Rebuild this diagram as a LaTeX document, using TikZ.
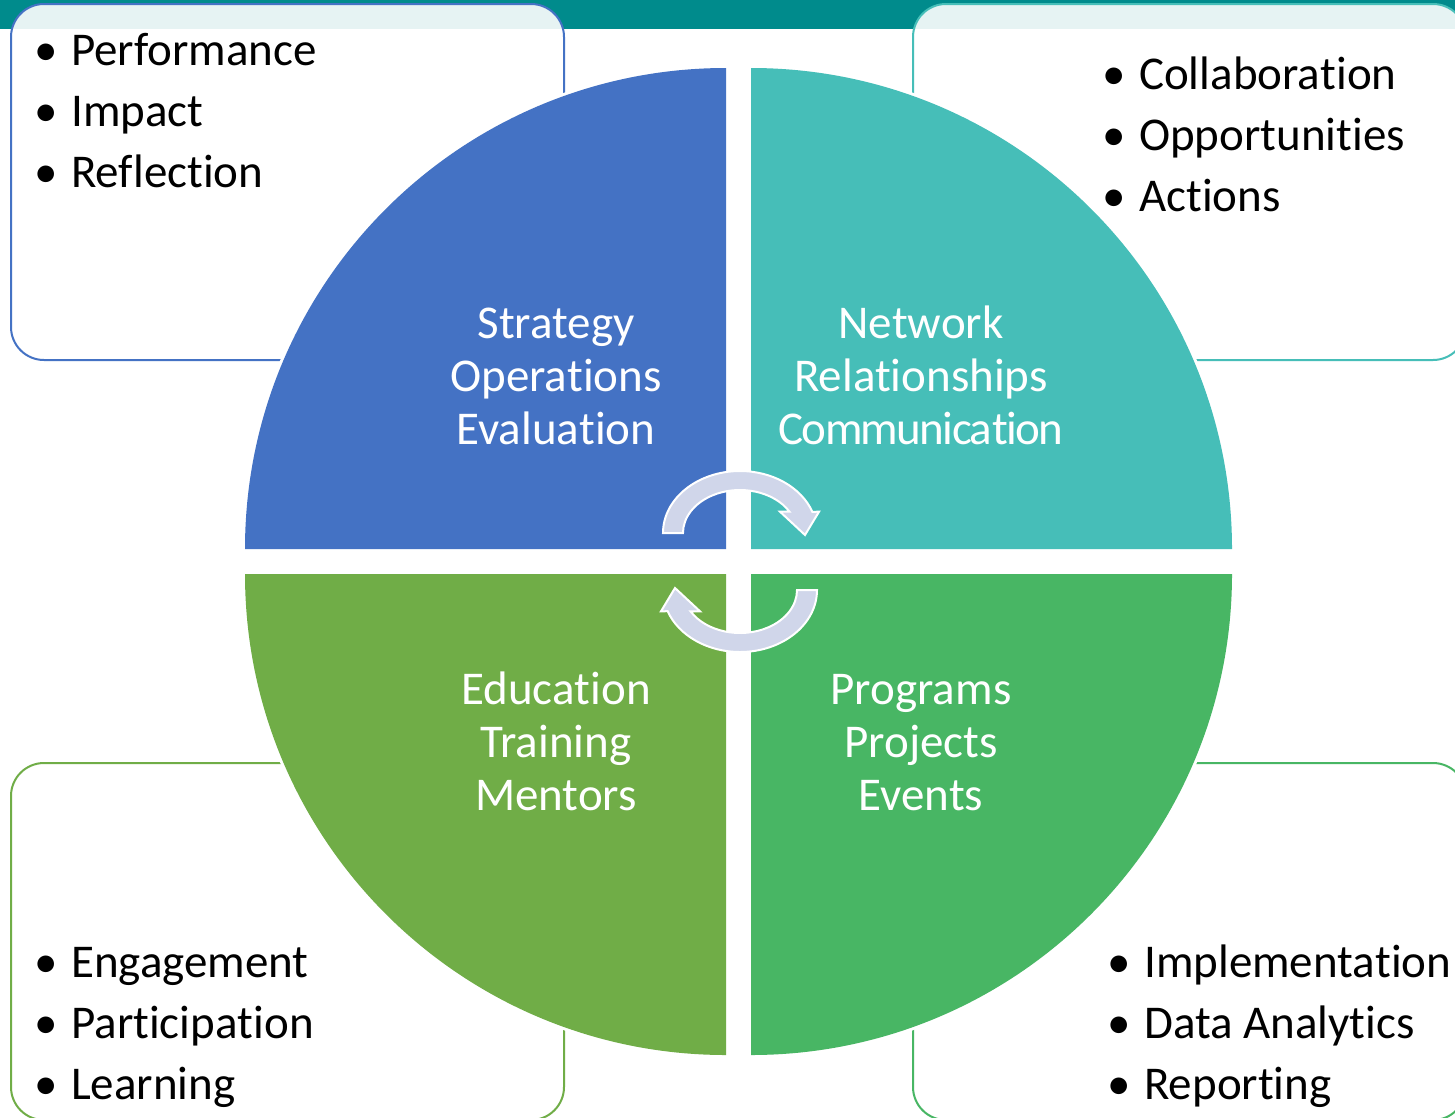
\documentclass[tikz,border=0pt]{standalone}
\usepackage{fontspec}
\setmainfont{Carlito}[RawFeature={-liga,-clig,-dlig,-calt,-rlig}]
\definecolor{topbar}{RGB}{0,139,140}
\definecolor{qblue}{RGB}{68,114,196}
\definecolor{qteal}{RGB}{70,190,184}
\definecolor{qgreenA}{RGB}{112,173,71}
\definecolor{qgreenB}{RGB}{72,182,100}
\definecolor{arrowfill}{RGB}{208,214,234}
\begin{document}
\begin{tikzpicture}[x=1pt,y=1pt,
  boxline/.style={line width=2pt, rounded corners=33pt, fill=white, fill opacity=0.9},
  bul/.style={anchor=base west, inner sep=0pt, font=\fontsize{47}{56}\selectfont, text=black},
  ctext/.style={anchor=base, inner sep=0pt, font=\fontsize{47}{56}\selectfont, text=white},
  carrow/.style={fill=arrowfill, draw=white, line width=2pt, line join=miter}]
\useasboundingbox (0,0) rectangle (1455,-1117);
\fill[white] (0,0) rectangle (1455,-1117);
\fill[topbar] (0,0) rectangle (1455,-29);
% corner boxes
\draw[boxline, draw=qblue] (11,-4) rectangle (564,-360);
\draw[boxline, draw=qteal] (913,-4) rectangle (1466,-360);
\draw[boxline, draw=qgreenA] (11,-763) rectangle (564,-1120);
\draw[boxline, draw=qgreenB] (913,-763) rectangle (1466,-1120);
% white halo of the quadrants
\begin{scope}[white, line width=6pt]
\draw (726,-549) -- (245,-549) arc[start angle=180, end angle=90, radius=481] -- cycle;
\draw (751,-549) -- (751,-68) arc[start angle=90, end angle=0, radius=481] -- cycle;
\draw (726,-574) -- (245,-574) arc[start angle=180, end angle=270, radius=481] -- cycle;
\draw (751,-574) -- (1232,-574) arc[start angle=0, end angle=-90, radius=481] -- cycle;
\end{scope}
% quadrants
\fill[qblue] (726,-549) -- (245,-549) arc[start angle=180, end angle=90, radius=481] -- cycle;
\fill[qteal] (751,-549) -- (751,-68) arc[start angle=90, end angle=0, radius=481] -- cycle;
\fill[qgreenA] (726,-574) -- (245,-574) arc[start angle=180, end angle=270, radius=481] -- cycle;
\fill[qgreenB] (751,-574) -- (1232,-574) arc[start angle=0, end angle=-90, radius=481] -- cycle;
% circular arrows
\path[carrow] (663,-533) arc[start angle=180, end angle=20, x radius=77, y radius=62]
  -- (819,-511.7) -- (805,-535) -- (780,-511.7) -- (789.5,-511.7)
  arc[start angle=29.7, end angle=180, x radius=57, y radius=43] -- cycle;
\begin{scope}[rotate around={180:(740,-561.5)}]
\path[carrow] (663,-533) arc[start angle=180, end angle=20, x radius=77, y radius=62]
  -- (819,-511.7) -- (805,-535) -- (780,-511.7) -- (789.5,-511.7)
  arc[start angle=29.7, end angle=180, x radius=57, y radius=43] -- cycle;
\end{scope}
% quadrant texts
\node[ctext] (s1) at (556,-338) {Strategy};
\node[ctext] (s2) at (556,-391) {Opera\kern0pt tions};
\node[ctext] (s3) at (556,-444) {Evalua\kern0pt tion};
\node[ctext] (n1) at (921,-338) {Network};
\node[ctext] (n2) at (921,-391) {Relationships};
\node[ctext] (n3) at (921,-444) {\addfontfeature{LetterSpace=-3.5}Communica\kern0pt tion};
\node[ctext] (e1) at (556,-704) {Educa\kern0pt tion};
\node[ctext] (e2) at (556,-757) {Training};
\node[ctext] (e3) at (556,-810) {Mentors};
\node[ctext] (g1) at (921,-704) {Programs};
\node[ctext] (g2) at (921,-757) {Projects};
\node[ctext] (g3) at (921,-810) {Events};
% bullet lists
\node[bul] (tl1) at (71,-65) {\llap{\makebox[50pt]{•}}Performance};
\node[bul] (tl2) at (71,-126) {\llap{\makebox[50pt]{•}}Impact};
\node[bul] (tl3) at (71,-187) {\llap{\makebox[50pt]{•}}Reflec\kern0pt tion};
\node[bul] (tr1) at (1139,-89) {\llap{\makebox[50pt]{•}}Collabora\kern0pt tion};
\node[bul] (tr2) at (1139,-150) {\llap{\makebox[50pt]{•}}Opportuni\kern0pt ties};
\node[bul] (tr3) at (1139,-211) {\llap{\makebox[50pt]{•}}Ac\kern0pt tions};
\node[bul] (bl1) at (71,-977) {\llap{\makebox[50pt]{•}}Engagement};
\node[bul] (bl2) at (71,-1038) {\llap{\makebox[50pt]{•}}Par\kern0pt ticipa\kern0pt tion};
\node[bul] (bl3) at (71,-1099) {\llap{\makebox[50pt]{•}}Learning};
\node[bul] (br1) at (1144,-977) {\llap{\makebox[50pt]{•}}Implementa\kern0pt tion};
\node[bul] (br2) at (1144,-1038) {\llap{\makebox[50pt]{•}}Data Analy\kern0pt tics};
\node[bul] (br3) at (1144,-1099) {\llap{\makebox[50pt]{•}}Repor\kern0pt ting};
\end{tikzpicture}
\end{document}
